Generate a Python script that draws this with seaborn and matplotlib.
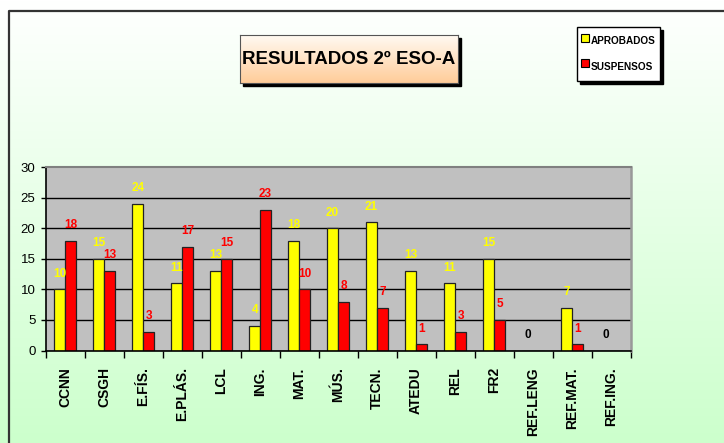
import numpy as np
import pandas as pd
import matplotlib
matplotlib.use('Agg')
import matplotlib.pyplot as plt
import seaborn as sns
from matplotlib.patches import Rectangle
from matplotlib.lines import Line2D

subjects = ["CCNN", "CSGH", "E.FÍS.", "E.PLÁS.", "LCL", "ING.", "MAT.", "MÚS.",
            "TECN.", "ATEDU", "REL", "FR2", "REF.LENG", "REF.MAT.", "REF.ING."]
aprobados = [10, 15, 24, 11, 13, 4, 18, 20, 21, 13, 11, 15, 0, 7, 0]
suspensos = [18, 13, 3, 17, 15, 23, 10, 8, 7, 1, 3, 5, 0, 1, 0]
series_names = ["APROBADOS", "SUSPENSOS"]
series_colors = ["#FFFF00", "#FF0000"]
y_ticks = [0, 5, 10, 15, 20, 25, 30]
title = "RESULTADOS 2º ESO-A"

W, H = 724, 443
fig = plt.figure(figsize=(W / 100, H / 100), dpi=100)
fam = ['Liberation Sans', 'DejaVu Sans']


def fx(px):
    return px / W


def fy(py):
    return 1 - py / H


# figure background gradient
bg = fig.add_axes([0, 0, 1, 1], zorder=-10)
g = np.linspace(0, 1, 256)[:, None, None]
top = np.array([1.0, 1.0, 1.0])[None, None, :]
bot = np.array([0.8, 1.0, 0.8])[None, None, :]
bg.imshow(top * (1 - g) + bot * g, aspect='auto', extent=[0, 1, 0, 1])
bg.axis('off')

# border
fig.add_artist(Line2D([fx(8.5), fx(8.5), 1], [0, fy(10.5), fy(10.5)],
                      transform=fig.transFigure, color='#333333', lw=1.6, zorder=1))

# main axes
ax = fig.add_axes([fx(45.7), fy(350.5), fx(630.5) - fx(45.7), fy(167.3) - fy(350.5)])
df = pd.DataFrame({
    'subject': subjects * 2,
    'serie': [series_names[0]] * len(subjects) + [series_names[1]] * len(subjects),
    'value': aprobados + suspensos,
})
sns.barplot(data=df, x='subject', y='value', hue='serie', hue_order=series_names,
            palette=series_colors, width=0.56, gap=0, edgecolor='#222222',
            linewidth=0.9, saturation=1, errorbar=None, legend=False, ax=ax)

ax.set_facecolor('#C0C0C0')
ax.set_ylim(0, 30)
ax.set_xlim(-0.5, len(subjects) - 0.5)
ax.set_xlabel('')
ax.set_ylabel('')
ax.set_yticks(y_ticks)
ax.set_yticklabels([str(v) for v in y_ticks], family=fam, fontsize=9.5)
ax.set_xticks(range(len(subjects)))
ax.set_xticklabels(subjects, rotation=90, fontsize=10, fontweight='bold',
                   family=fam, va='top', ha='center')
ax.set_xticks(np.arange(-0.5, len(subjects), 1), minor=True)
ax.tick_params(axis='x', which='major', length=0, pad=12)
ax.tick_params(axis='x', which='minor', length=5, width=1, color='black', direction='out')
ax.tick_params(axis='y', length=3.4, width=1, color='black', pad=4)
ax.yaxis.grid(True, color='black', lw=1)
ax.set_axisbelow(True)
ax.get_ygridlines()[-1].set_visible(False)
for s in ['left', 'bottom']:
    ax.spines[s].set_color('black')
    ax.spines[s].set_linewidth(1.2)
ax.spines['top'].set_color('#808080')
ax.spines['top'].set_linewidth(1.5)
ax.spines['right'].set_color('#999999')
ax.spines['right'].set_linewidth(1.8)

for cont, vals, col in zip(ax.containers, [aprobados, suspensos], series_colors):
    labs = [str(v) if (v > 0 or col == series_colors[0]) else '' for v in vals]
    ts = ax.bar_label(cont, labels=labs, padding=7, color=col, fontsize=8.5,
                      fontweight='bold', family=fam)
    for t, v in zip(ts, vals):
        if v == 0:
            t.set_color('black')

# title box
tx0, tx1, ty0, ty1 = 240, 458, 35, 83
fig.add_artist(Rectangle((fx(tx0 + 3), fy(ty1 + 3)), fx(tx1) - fx(tx0), fy(ty0) - fy(ty1),
                         transform=fig.transFigure, color='black', zorder=5))
tax = fig.add_axes([fx(tx0), fy(ty1), fx(tx1) - fx(tx0), fy(ty0) - fy(ty1)], zorder=6)
tt = np.array([1.0, 0.98, 0.95])[None, None, :]
tb = np.array([1.0, 0.80, 0.60])[None, None, :]
tax.imshow(tt * (1 - g) + tb * g, aspect='auto', extent=[0, 1, 0, 1])
tax.set_xticks([])
tax.set_yticks([])
for s in tax.spines.values():
    s.set_color('#555555')
    s.set_linewidth(0.8)
tax.text(0.5, 0.5, title, ha='center', va='center', fontsize=13.5, fontweight='bold',
         family=fam, transform=tax.transAxes)

# legend
handles = [Line2D([], [], ls='', marker='s', markersize=5.5, markerfacecolor=c,
                  markeredgecolor='black', markeredgewidth=0.8) for c in series_colors]
leg = fig.legend(handles, series_names, loc='upper left',
                 bbox_to_anchor=(fx(577), fy(27)), bbox_transform=fig.transFigure,
                 borderaxespad=0, frameon=True, fancybox=False, edgecolor='black',
                 framealpha=1, facecolor='white', shadow={'color': 'black', 'alpha': 1},
                 prop=dict(family=fam, weight='bold', size=7.2),
                 handlelength=0.7, handleheight=2.8, handletextpad=0.3,
                 labelspacing=0.5, borderpad=0.4)
leg.set_zorder(7)

fig.savefig('out.png', dpi=100)
